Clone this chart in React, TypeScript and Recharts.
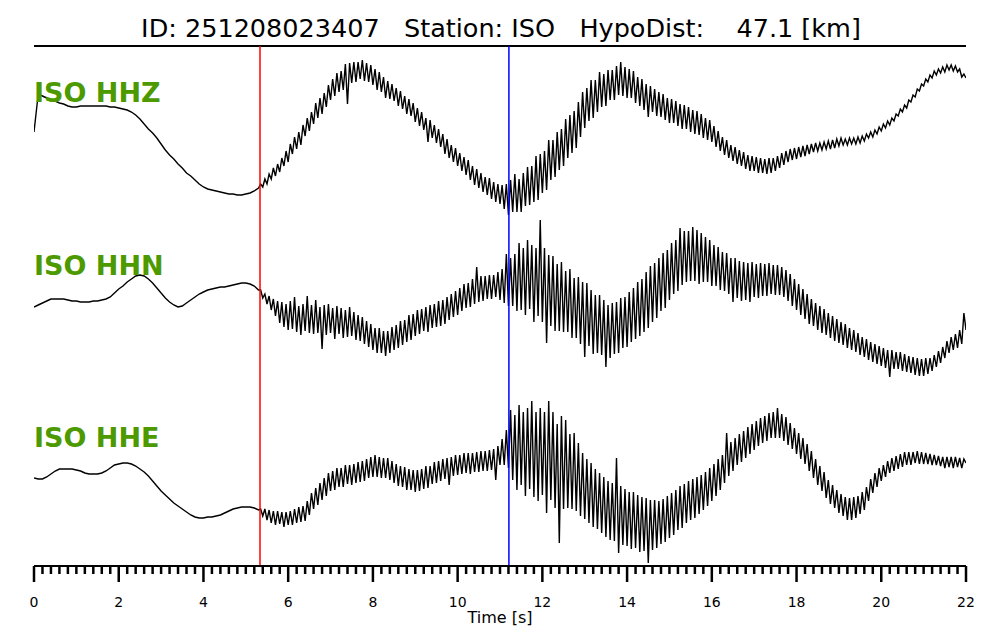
import { LineChart, Line, XAxis, YAxis, ReferenceLine } from 'recharts';

// quiet part before the P arrival: 0.0 .. 5.3 s, one sample every 0.1 s
const PRE_STEP = 0.1;
// after the P arrival: 5.35 .. 22.0 s, one sample every 0.05 s
const POST_START = 5.35;
const POST_STEP = 0.05;

const hhzPre = [
  8, 46, 44, 42, 40, 39, 37, 36, 34, 33,
  33, 34, 34, 34, 34, 34, 34, 34, 33, 33,
  32, 31, 30, 28, 25, 21, 16, 11, 7, 2,
  -4, -10, -15, -19, -24, -28, -33, -36, -40, -44,
  -47, -49, -50, -51, -52, -53, -54, -54, -55, -55,
  -54, -53, -51, -48,
];
const hhzPost = [
  -44, -47, -39, -44, -34, -39, -28, -36, -24, -32,
  -18, -26, -11, -22, -4, -14, 3, -9, 8, -5,
  15, 4, 22, 9, 28, 16, 37, 22, 42, 26,
  47, 33, 55, 40, 61, 44, 67, 48, 69, 50,
  76, 36, 77, 57, 78, 58, 78, 61, 80, 59,
  77, 58, 75, 55, 71, 50, 68, 48, 63, 42,
  59, 41, 56, 39, 52, 34, 49, 31, 44, 26,
  41, 24, 37, 18, 32, 14, 28, 10, 22, -2,
  20, 2, 15, -3, 11, -7, 6, -14, 1, -18,
  -5, -22, -8, -26, -13, -31, -17, -35, -20, -40,
  -26, -45, -29, -48, -33, -52, -37, -55, -38, -59,
  -42, -62, -44, -64, -45, -69, -44, -75, -40, -72,
  -34, -72, -39, -72, -33, -66, -27, -65, -26, -62,
  -16, -60, -14, -53, -11, -50, 0, -40, 0, -37,
  8, -30, 11, -26, 21, -18, 25, -13, 29, -8,
  38, 3, 48, 12, 52, 19, 60, 22, 60, 28,
  68, 33, 66, 34, 70, 40, 70, 40, 74, 45,
  78, 44, 73, 42, 71, 42, 69, 37, 63, 34,
  61, 30, 56, 23, 54, 28, 51, 24, 48, 23,
  46, 20, 42, 17, 41, 17, 39, 14, 36, 11,
  35, 11, 33, 8, 30, 6, 29, 5, 26, 2,
  22, 0, 20, -2, 14, -7, 9, -11, 3, -15,
  0, -18, -5, -21, -7, -24, -10, -26, -12, -29,
  -15, -31, -16, -31, -17, -33, -18, -33, -19, -34,
  -18, -33, -18, -31, -16, -28, -13, -25, -11, -22,
  -9, -20, -8, -19, -7, -17, -6, -16, -5, -14,
  -4, -12, -3, -11, -3, -10, -2, -9, -1, -9,
  0, -8, 1, -6, 2, -5, 1, -5, 2, -4,
  2, -4, 3, -3, 4, -1, 6, 2, 8, 3,
  10, 6, 13, 9, 16, 12, 19, 15, 22, 19,
  26, 24, 31, 28, 35, 32, 40, 38, 45, 43,
  51, 49, 56, 54, 61, 58, 65, 62, 69, 65,
  71, 67, 73, 68, 75, 70, 75, 69, 74, 68,
  71, 63, 66, 62,
];

const hhnPre = [
  -7, -5, -3, -1, 1, 1, 1, 1, 0, -1,
  -1, -2, -2, -2, -1, -1, 0, 1, 3, 7,
  11, 14, 18, 21, 24, 25, 24, 21, 17, 12,
  7, 2, -2, -5, -7, -6, -3, 0, 3, 6,
  8, 10, 11, 12, 13, 13, 14, 15, 16, 17,
  17, 16, 14, 10,
];
const hhnPost = [
  10, 2, 6, -4, 4, -10, 1, -16, -1, -23,
  -2, -27, -4, -30, -1, -29, 3, -32, -6, -35,
  -4, -31, 4, -33, -5, -34, 0, -33, -7, -49,
  -5, -35, -4, -33, -8, -39, -6, -34, -8, -38,
  -10, -37, -7, -36, -12, -40, -15, -41, -17, -44,
  -21, -47, -24, -50, -28, -53, -28, -53, -31, -56,
  -31, -53, -27, -50, -25, -48, -21, -45, -20, -42,
  -15, -40, -14, -36, -10, -34, -9, -31, -7, -32,
  -5, -28, -4, -27, -1, -26, 0, -24, 3, -20,
  6, -17, 9, -15, 12, -11, 16, -8, 17, -7,
  21, -4, 33, -2, 24, -1, 24, 1, 25, 1,
  25, 3, 28, 0, 31, -3, 46, -6, 42, -6,
  46, -11, 57, -10, 52, -15, 60, -9, 55, -22,
  52, -16, 80, -22, 52, -43, 45, -26, 44, -31,
  36, -31, 38, -32, 29, -32, 31, -38, 22, -38,
  23, -44, 18, -57, 17, -46, 10, -54, 5, -53,
  5, -55, 0, -67, -5, -58, -3, -54, -2, -53,
  2, -48, 3, -47, 8, -42, 12, -39, 18, -36,
  21, -32, 28, -28, 34, -22, 37, -18, 42, -11,
  47, -8, 50, 0, 57, 6, 60, 9, 72, 15,
  69, 18, 69, 19, 73, 19, 70, 16, 67, 18,
  63, 18, 60, 14, 55, 14, 53, 10, 48, 9,
  47, 6, 42, -2, 42, 2, 39, -1, 38, 0,
  37, -2, 38, 3, 36, 2, 37, 4, 36, 4,
  37, 6, 35, 5, 35, 5, 33, 3, 30, -1,
  26, -6, 21, -10, 16, -15, 11, -19, 6, -24,
  1, -26, -3, -30, -6, -33, -9, -35, -13, -38,
  -16, -41, -19, -43, -22, -45, -24, -48, -28, -50,
  -30, -52, -33, -55, -37, -57, -39, -60, -42, -62,
  -44, -64, -46, -66, -48, -68, -50, -77, -50, -69,
  -52, -69, -52, -71, -54, -72, -56, -73, -57, -75,
  -58, -76, -59, -76, -58, -74, -58, -71, -55, -67,
  -51, -63, -47, -58, -41, -53, -37, -50, -34, -48,
  -30, -44, -13, -30,
];

const hhePre = [
  2, 1, 1, 3, 6, 9, 11, 11, 11, 11,
  10, 9, 7, 6, 6, 6, 7, 9, 12, 15,
  16, 17, 17, 16, 14, 11, 8, 4, -1, -6,
  -11, -15, -19, -23, -26, -29, -32, -35, -37, -38,
  -38, -37, -37, -36, -35, -33, -31, -29, -28, -27,
  -27, -27, -28, -30,
];
const hhePost = [
  -29, -36, -29, -40, -30, -43, -31, -45, -31, -44,
  -32, -47, -32, -45, -31, -45, -29, -43, -27, -42,
  -26, -41, -21, -35, -13, -29, -8, -25, -3, -20,
  2, -16, 7, -11, 9, -10, 12, -7, 12, -7,
  15, -4, 15, -5, 16, -3, 18, -2, 19, -1,
  21, 2, 23, 3, 25, 3, 23, 2, 22, 2,
  22, 0, 19, -3, 16, -6, 14, -7, 13, -10,
  11, -10, 10, -12, 10, -11, 11, -9, 14, -8,
  14, -4, 18, -3, 19, -1, 21, 1, 22, -5,
  23, 4, 25, 5, 25, 6, 27, 7, 27, 6,
  27, 8, 28, 8, 29, 9, 29, 9, 30, 10,
  31, 0, 34, 15, 41, 15, 50, 12, 70, 0,
  65, -10, 75, -5, 68, -16, 72, -9, 79, -17,
  68, -21, 72, -15, 68, -33, 79, -20, 68, -28,
  56, -63, 64, -29, 60, -28, 46, -29, 47, -31,
  37, -36, 27, -39, 21, -43, 17, -47, 11, -49,
  7, -53, 3, -57, -1, -60, -3, -61, 22, -73,
  -6, -65, -9, -66, -12, -69, -12, -68, -15, -72,
  -17, -71, -18, -83, -20, -70, -20, -68, -21, -64,
  -19, -62, -16, -58, -13, -55, -10, -50, -6, -48,
  -4, -43, -1, -40, 1, -38, 3, -34, 5, -30,
  8, -26, 12, -21, 16, -16, 21, -10, 25, -3,
  47, 4, 38, 9, 42, 15, 46, 18, 49, 22,
  53, 26, 56, 30, 59, 34, 62, 37, 64, 39,
  67, 42, 68, 42, 72, 42, 66, 39, 63, 35,
  57, 31, 52, 26, 47, 21, 42, 16, 36, 9,
  29, 2, 21, -5, 14, -11, 8, -18, 0, -24,
  -5, -28, -10, -33, -14, -36, -17, -40, -18, -40,
  -17, -38, -16, -34, -12, -30, -7, -21, 1, -13,
  7, -7, 12, -1, 15, 3, 19, 7, 22, 9,
  24, 11, 26, 13, 28, 15, 28, 15, 28, 17,
  29, 16, 28, 16, 27, 16, 26, 15, 25, 15,
  24, 14, 23, 12, 23, 13, 23, 12, 23, 13,
  22, 12, 21, 17,
];

const channels = ['ISO HHZ', 'ISO HHN', 'ISO HHE'];
// vertical offset of each trace on the shared axis
const traceOffsets = [426, 266, 86];

const pPick = 5.335; // s, red
const sPick = 11.21; // s, blue

const majorTicks = [0, 2, 4, 6, 8, 10, 12, 14, 16, 18, 20, 22];
const minorTicks = Array.from({ length: 111 }, (_, i) => i / 5);

const round2 = (v: number) => Math.round(v * 100) / 100;

const data = [
  ...hhzPre.map((v, i) => ({
    t: round2(i * PRE_STEP),
    z: v + traceOffsets[0],
    n: hhnPre[i] + traceOffsets[1],
    e: hhePre[i] + traceOffsets[2],
  })),
  ...hhzPost.map((v, i) => ({
    t: round2(POST_START + i * POST_STEP),
    z: v + traceOffsets[0],
    n: (hhnPost[i] ?? hhnPost[hhnPost.length - 1]) + traceOffsets[1],
    e: (hhePost[i] ?? hhePost[hhePost.length - 1]) + traceOffsets[2],
  })),
];

const FONT = '"DejaVu Sans", sans-serif';

function TimeTick(props: any) {
  const { x, y, payload } = props;
  const v = payload.value;
  const major = majorTicks.some(m => Math.abs(m - v) < 1e-6);
  return (
    <g>
      <line x1={x} x2={x} y1={y} y2={y + (major ? 16 : 8)} stroke="#000" strokeWidth={2.5} />
      {major && (
        <text x={x} y={y + 41} textAnchor="middle" fontSize={14} fontFamily={FONT} fill="#000">
          {Math.round(v)}
        </text>
      )}
    </g>
  );
}

const labelY = [102, 275, 447];

export default function App() {
  return (
    <div style={{ position: 'absolute', left: 0, top: 0, width: 1000, height: 640, background: '#fff' }}>
      <LineChart width={1000} height={640} data={data} margin={{ top: 46, right: 34, left: 34, bottom: 14 }}>
        <XAxis
          dataKey="t"
          type="number"
          domain={[0, 22]}
          ticks={minorTicks}
          interval={0}
          tick={<TimeTick />}
          tickLine={false}
          tickSize={0}
          tickMargin={0}
          height={60}
          axisLine={{ stroke: '#000', strokeWidth: 2 }}
          allowDataOverflow
        />
        <YAxis hide domain={[0, 520]} allowDataOverflow />
        <ReferenceLine y={520} stroke="#000" strokeWidth={2} />
        <Line type="linear" dataKey="z" stroke="#000" strokeWidth={1.4} dot={false} isAnimationActive={false} />
        <Line type="linear" dataKey="n" stroke="#000" strokeWidth={1.4} dot={false} isAnimationActive={false} />
        <Line type="linear" dataKey="e" stroke="#000" strokeWidth={1.4} dot={false} isAnimationActive={false} />
        <ReferenceLine x={pPick} stroke="#ff0000" strokeWidth={1.5} />
        <ReferenceLine x={sPick} stroke="#0000ff" strokeWidth={1.5} />
      </LineChart>
      <svg width={1000} height={640} style={{ position: 'absolute', left: 0, top: 0, pointerEvents: 'none' }}>
        <text x={501} y={37} textAnchor="middle" fontSize={25.5} fontFamily={FONT} fill="#000" xmlSpace="preserve" style={{ whiteSpace: 'pre' }}>
          {'ID: 251208023407   Station: ISO   HypoDist:    47.1 [km]'}
        </text>
        {channels.map((c, i) => (
          <text key={c} x={34} y={labelY[i]} fontSize={27} fontWeight="bold" fontFamily={FONT} fill="#4c9a00">
            {c}
          </text>
        ))}
        <text x={500} y={623} textAnchor="middle" fontSize={16} fontFamily={FONT} fill="#000">
          Time [s]
        </text>
      </svg>
    </div>
  );
}
